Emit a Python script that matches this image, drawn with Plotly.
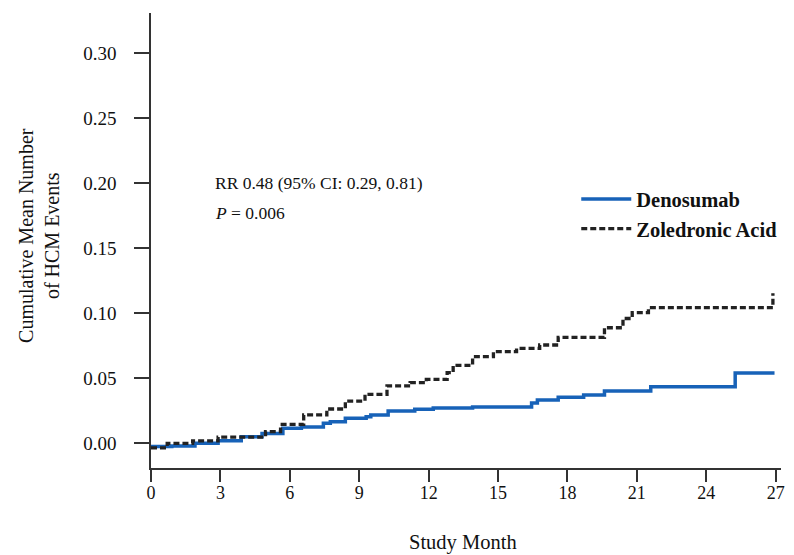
import plotly.graph_objects as go

# Denosumab cumulative mean (step function)
den_month = [0, 0.9, 1.9, 2.9, 3.9, 4.8, 5.7, 6.5, 7.45, 7.75, 8.4, 9.3, 9.5, 10.25,
             11.4, 12.2, 13.9, 16.45, 16.7, 17.6, 18.7, 19.6, 21.6, 25.25, 26.95]
den_value = [-0.0025, -0.002, 0.0, 0.002, 0.005, 0.0075, 0.0115, 0.0125, 0.0155, 0.0166,
             0.0192, 0.0205, 0.0218, 0.0248, 0.0262, 0.0272, 0.028, 0.031, 0.0333, 0.0354,
             0.0372, 0.0402, 0.0435, 0.054, 0.054]

# Zoledronic acid cumulative mean (step function)
zol_month = [0, 0.7, 1.8, 2.9, 4.95, 5.6, 6.6, 7.6, 8.4, 9.25, 10.2, 11.2, 11.9, 12.8,
             13.06, 13.9, 14.8, 15.8, 16.8, 17.6, 19.6, 20.4, 20.8, 21.5, 26.88]
zol_value = [-0.0035, 0.0, 0.0018, 0.0048, 0.009, 0.0145, 0.0218, 0.0264, 0.0325, 0.0377,
             0.0441, 0.0466, 0.0492, 0.0543, 0.060, 0.0666, 0.0705, 0.073, 0.0756, 0.0815,
             0.0889, 0.096, 0.1005, 0.1043, 0.1154]

x_ticks = [0, 3, 6, 9, 12, 15, 18, 21, 24, 27]
y_ticks = [0.00, 0.05, 0.10, 0.15, 0.20, 0.25, 0.30]

FONT = "Liberation Serif"
AX = "#333333"
TXT = "#111111"

fig = go.Figure()
fig.add_trace(go.Scatter(
    x=den_month, y=den_value, mode="lines", name="Denosumab",
    line=dict(color="#1762b8", width=3.5, shape="hv"), legendgroup="a"))
fig.add_trace(go.Scatter(
    x=zol_month, y=zol_value, mode="lines", name="Zoledronic Acid",
    line=dict(color="#222222", width=3.3, shape="hv", dash="6px,3px"), legendgroup="b"))

fig.update_layout(
    width=786, height=547,
    margin=dict(l=143, r=13, t=5, b=87),
    paper_bgcolor="white", plot_bgcolor="white",
    font=dict(family=FONT, size=18, color=TXT),
    showlegend=True,
    legend=dict(x=0.675, y=0.558, xanchor="left", yanchor="middle",
                font=dict(family=FONT, size=20.5, color=TXT, weight="bold"),
                bgcolor="rgba(0,0,0,0)", tracegroupgap=0, itemwidth=50),
    xaxis=dict(range=[0, 27.23], tickvals=x_ticks, ticktext=[str(v) for v in x_ticks],
               showline=True, linecolor=AX, linewidth=1.5, ticks="outside",
               ticklen=12, tickwidth=1.5, tickcolor=AX, showgrid=False, zeroline=False,
               tickfont=dict(family=FONT, size=18, color=TXT), ticklabelstandoff=-4),
    yaxis=dict(range=[-0.019, 0.331], tickvals=y_ticks, tickformat=".2f",
               showline=True, linecolor=AX, linewidth=1.5, ticks="outside",
               ticklen=15, tickwidth=1.5, tickcolor=AX, showgrid=False, zeroline=False,
               tickfont=dict(family=FONT, size=19, color=TXT), ticklabelstandoff=14),
    annotations=[
        dict(text="Cumulative Mean Number<br>of HCM Events", textangle=-90,
             xref="paper", yref="paper", x=0, y=0.51, xanchor="center", yanchor="middle",
             xshift=-112, showarrow=False, font=dict(family=FONT, size=20, color=TXT)),
        dict(text="Study Month", xref="paper", yref="paper", x=0.495, y=0,
             xanchor="center", yanchor="middle", yshift=-74, showarrow=False,
             font=dict(family=FONT, size=20.5, color=TXT)),
        dict(text="RR 0.48 (95% CI: 0.29, 0.81)", align="left",
             xref="x", yref="y", x=2.68, y=0.2002, xanchor="left", yanchor="middle",
             showarrow=False, font=dict(family=FONT, size=17.5, color=TXT)),
        dict(text="<i>P</i> = 0.006", align="left",
             xref="x", yref="y", x=2.68, y=0.1772, xanchor="left", yanchor="middle",
             showarrow=False, font=dict(family=FONT, size=17.5, color=TXT)),
    ],
)

fig.write_html("out.html")
